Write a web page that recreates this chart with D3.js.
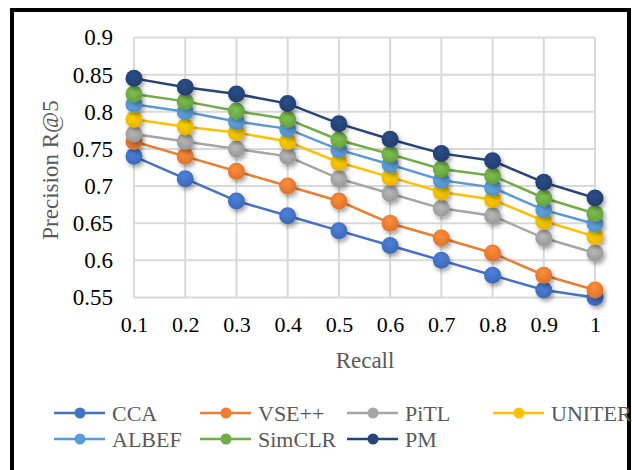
<!DOCTYPE html>
<html>
<head>
<meta charset="utf-8">
<script src="https://cdn.jsdelivr.net/npm/d3@7"></script>
<style>
	body { margin: 0; background: #fff; }
	text { font-family: "Liberation Serif", "Times New Roman", serif; }
</style>
</head>
<body>
<script>
const recall = [0.1, 0.2, 0.3, 0.4, 0.5, 0.6, 0.7, 0.8, 0.9, 1];
const recallLabels = ['0.1', '0.2', '0.3', '0.4', '0.5', '0.6', '0.7', '0.8', '0.9', '1'];
const yTicks = [0.55, 0.6, 0.65, 0.7, 0.75, 0.8, 0.85, 0.9];
const yTickLabels = ['0.55', '0.6', '0.65', '0.7', '0.75', '0.8', '0.85', '0.9'];

const seriesNames = ['CCA', 'VSE++', 'PiTL', 'UNITER', 'ALBEF', 'SimCLR', 'PM'];
const seriesColors = ['#4472C4', '#ED7D31', '#A5A5A5', '#FFC000', '#5B9BD5', '#70AD47', '#264478'];

const cca    = [0.74, 0.71, 0.68, 0.66, 0.64, 0.62, 0.60, 0.58, 0.56, 0.55];
const vse    = [0.76, 0.74, 0.72, 0.70, 0.68, 0.65, 0.63, 0.61, 0.58, 0.56];
const pitl   = [0.77, 0.76, 0.75, 0.74, 0.71, 0.69, 0.67, 0.66, 0.63, 0.61];
const uniter = [0.79, 0.78, 0.772, 0.76, 0.732, 0.712, 0.692, 0.682, 0.653, 0.632];
const albef  = [0.81, 0.80, 0.787, 0.777, 0.749, 0.729, 0.708, 0.698, 0.668, 0.649];
const simclr = [0.824, 0.814, 0.801, 0.79, 0.762, 0.743, 0.723, 0.714, 0.684, 0.663];
const pm     = [0.845, 0.833, 0.824, 0.811, 0.784, 0.763, 0.744, 0.734, 0.705, 0.684];
const seriesValues = [cca, vse, pitl, uniter, albef, simclr, pm];

const width = 632, height = 470;
const svg = d3.select('body').append('svg')
	.attr('width', width)
	.attr('height', height);

const defs = svg.append('defs');
const shadow = defs.append('filter').attr('id', 'shadow')
	.attr('x', '-50%').attr('y', '-50%').attr('width', '200%').attr('height', '200%');
shadow.append('feDropShadow')
	.attr('dx', 2).attr('dy', 3).attr('stdDeviation', 2)
	.attr('flood-color', '#000').attr('flood-opacity', 0.35);

seriesColors.forEach((c, i) => {
	let g = defs.append('radialGradient').attr('id', 'grad' + i)
		.attr('cx', '45%').attr('cy', '35%').attr('r', '65%');
	g.append('stop').attr('offset', '0%').attr('stop-color', d3.color(c).brighter(0.35));
	g.append('stop').attr('offset', '100%').attr('stop-color', d3.color(c).darker(0.25));
});

// chart frame
svg.append('path')
	.attr('d', 'M12,472 L12,10 L629,10 L629,472')
	.style('fill', 'none')
	.style('stroke', '#000')
	.style('stroke-width', 4);

const x = d3.scalePoint().domain(recall).range([134, 595]);
const y = d3.scaleLinear().domain([0.55, 0.9]).range([297.5, 37.5]);

const grid = svg.append('g');
grid.selectAll('line.h')
	.data(yTicks)
	.enter().append('line')
	.attr('x1', 134).attr('x2', 595)
	.attr('y1', d => y(d)).attr('y2', d => y(d))
	.style('stroke', '#d9d9d9')
	.style('stroke-width', 2);
grid.selectAll('line.v')
	.data(recall)
	.enter().append('line')
	.attr('x1', d => x(d)).attr('x2', d => x(d))
	.attr('y1', y(0.9)).attr('y2', y(0.55))
	.style('stroke', '#d9d9d9')
	.style('stroke-width', 2);

const yAxis = svg.append('g')
	.attr('transform', 'translate(121,0)')
	.call(d3.axisLeft(y).tickValues(yTicks).tickSize(0).tickPadding(8)
		.tickFormat((d, i) => yTickLabels[i]));
yAxis.select('.domain').remove();
yAxis.selectAll('text')
	.style('font-family', '"Liberation Serif", serif')
	.style('font-size', '23px')
	.style('fill', '#000');

const xAxis = svg.append('g')
	.attr('transform', 'translate(0,308)')
	.call(d3.axisBottom(x).tickSize(0).tickPadding(8)
		.tickFormat((d, i) => recallLabels[i]));
xAxis.select('.domain').remove();
xAxis.selectAll('text')
	.style('font-family', '"Liberation Serif", serif')
	.style('font-size', '22px')
	.style('fill', '#000');

svg.append('text')
	.attr('x', 365).attr('y', 368)
	.attr('text-anchor', 'middle')
	.style('font-size', '23px')
	.style('fill', '#595959')
	.text('Recall');

svg.append('text')
	.attr('transform', 'translate(58,170) rotate(-90)')
	.attr('text-anchor', 'middle')
	.style('font-size', '23px')
	.style('fill', '#595959')
	.text('Precision R@5');

const line = d3.line()
	.x((d, i) => x(recall[i]))
	.y(d => y(d));

seriesValues.forEach((vals, s) => {
	let g = svg.append('g');
	g.append('path')
		.datum(vals)
		.attr('d', line)
		.style('fill', 'none')
		.style('stroke', seriesColors[s])
		.style('stroke-width', 2.5);
	g.selectAll('circle')
		.data(vals)
		.enter().append('circle')
		.attr('cx', (d, i) => x(recall[i]))
		.attr('cy', d => y(d))
		.attr('r', 8.5)
		.attr('filter', 'url(#shadow)')
		.style('fill', 'url(#grad' + s + ')');
});

// legend
const legendX = [54, 200, 347, 493];
const legendY = [413, 439];
const legend = svg.selectAll('g.legend')
	.data(seriesNames)
	.enter().append('g')
	.attr('transform', (d, i) => `translate(${legendX[i % 4]},${legendY[Math.floor(i / 4)]})`);
legend.append('line')
	.attr('x1', 0).attr('x2', 51)
	.attr('y1', 0).attr('y2', 0)
	.style('stroke', (d, i) => seriesColors[i])
	.style('stroke-width', 2.5);
legend.append('circle')
	.attr('cx', 26).attr('cy', 0).attr('r', 5.5)
	.style('fill', (d, i) => seriesColors[i]);
legend.append('text')
	.attr('x', 58).attr('y', 0)
	.attr('dy', '0.35em')
	.style('font-size', '22px')
	.style('fill', '#595959')
	.text(d => d);
</script>
</body>
</html>
